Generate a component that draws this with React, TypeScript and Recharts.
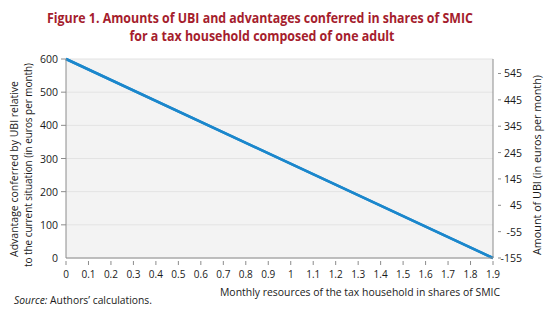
import { CartesianGrid, Line, LineChart, XAxis, YAxis } from "recharts";

// lecture du graphique : ressources mensuelles (part du SMIC)
const resources = [0, 1.9];
const advantage = [600, 0]; // axe de gauche
const ubiAmount = [600, -155]; // axe de droite
const xTicks = [0, 0.1, 0.2, 0.3, 0.4, 0.5, 0.6, 0.7, 0.8, 0.9, 1, 1.1, 1.2, 1.3, 1.4, 1.5, 1.6, 1.7, 1.8, 1.9];
const leftTicks = [0, 100, 200, 300, 400, 500, 600];
const rightTicks = [-155, -55, 45, 145, 245, 345, 445, 545];

const datos = resources.map((r, i) => ({ r, v: advantage[i], u: ubiAmount[i] }));

const FONT = "'Open Sans', sans-serif";
const AXIS = "#8c8c8c";
const TXT = "#1a1a1a";
const LINE = "#1b87cc";

function TickX({ x, y, payload }: any) {
  return (
    <g>
      <line x1={x} x2={x} y1={y + 3} y2={y + 7} stroke={AXIS} />
      <text x={x} y={y + 20} textAnchor="middle" fontSize={10} fontFamily={FONT} fill={TXT}>
        {payload.value}
      </text>
    </g>
  );
}

function TickLeft({ x, y, payload }: any) {
  return (
    <g>
      {payload.value !== 0 && <line x1={x - 5} x2={x} y1={y} y2={y} stroke={AXIS} />}
      <text x={x - 8} y={y + 4} textAnchor="end" fontSize={10.5} fontFamily={FONT} fill={TXT}>
        {payload.value}
      </text>
    </g>
  );
}

function TickRight({ x, y, payload }: any) {
  return (
    <g>
      <line x1={x + 5} x2={x + 8} y1={y} y2={y} stroke={AXIS} />
      <text x={x + 29} y={y + 4} textAnchor="end" fontSize={10.5} fontFamily={FONT} fill={TXT}>
        {payload.value}
      </text>
    </g>
  );
}

export default function App() {
  return (
    <div
      style={{
        position: "absolute",
        left: 0,
        top: 0,
        width: 550,
        height: 323,
        background: "#fff",
        overflow: "hidden",
      }}
    >
      <LineChart width={550} height={323} data={datos} margin={{ top: 59, right: 0, left: 0, bottom: 0 }}>
        <CartesianGrid vertical={false} stroke="#e3e3e3" fill="#f3f3f3" yAxisId="left" />
        <XAxis
          dataKey="r"
          type="number"
          domain={[0, 1.9]}
          ticks={xTicks}
          interval={0}
          height={65}
          stroke={AXIS}
          tickLine={false}
          tickSize={0}
          tickMargin={0}
          tick={<TickX />}
        />
        <YAxis
          yAxisId="left"
          domain={[0, 600]}
          ticks={leftTicks}
          interval={0}
          width={66}
          stroke={AXIS}
          tickLine={false}
          tickSize={0}
          tickMargin={0}
          tick={<TickLeft />}
        />
        <YAxis
          yAxisId="right"
          orientation="right"
          domain={[-155, 600]}
          ticks={rightTicks}
          interval={0}
          width={57}
          stroke={AXIS}
          tickLine={false}
          tickSize={0}
          tickMargin={0}
          tick={<TickRight />}
        />
        <Line yAxisId="right" dataKey="u" stroke={LINE} strokeWidth={2.5} dot={false} isAnimationActive={false} />
        <Line yAxisId="left" dataKey="v" stroke={LINE} strokeWidth={2.5} dot={false} isAnimationActive={false} />
      </LineChart>
      <svg
        width={550}
        height={323}
        style={{ position: "absolute", left: 0, top: 0, pointerEvents: "none" }}
        fontFamily={FONT}
      >
        <g fill="#a51d2d" fontWeight={700} fontSize={14} textAnchor="middle">
          <text x={260} y={23} textLength={426} lengthAdjust="spacingAndGlyphs">
            Figure 1. Amounts of UBI and advantages conferred in shares of SMIC
          </text>
          <text x={262} y={41} textLength={265} lengthAdjust="spacingAndGlyphs">
            for a tax household composed of one adult
          </text>
        </g>
        <g fill={TXT} fontSize={10.5} textAnchor="middle">
          <text x={18} y={169} transform="rotate(-90 18 169)" textLength={176} lengthAdjust="spacingAndGlyphs">
            Advantage conferred by UBI relative
          </text>
          <text x={32} y={165} transform="rotate(-90 32 165)" textLength={204} lengthAdjust="spacingAndGlyphs">
            to the current situation (in euros per month)
          </text>
          <text x={541} y={165} transform="rotate(-90 541 165)" textLength={180} lengthAdjust="spacingAndGlyphs">
            Amount of UBI (in euros per month)
          </text>
          <text x={360} y={296} textLength={280} lengthAdjust="spacingAndGlyphs">
            Monthly resources of the tax household in shares of SMIC
          </text>
        </g>
        <text x={14} y={304} fontSize={10} fill={TXT} textLength={138} lengthAdjust="spacingAndGlyphs">
          <tspan fontStyle="italic">Source:</tspan> Authors’ calculations.
        </text>
      </svg>
    </div>
  );
}
